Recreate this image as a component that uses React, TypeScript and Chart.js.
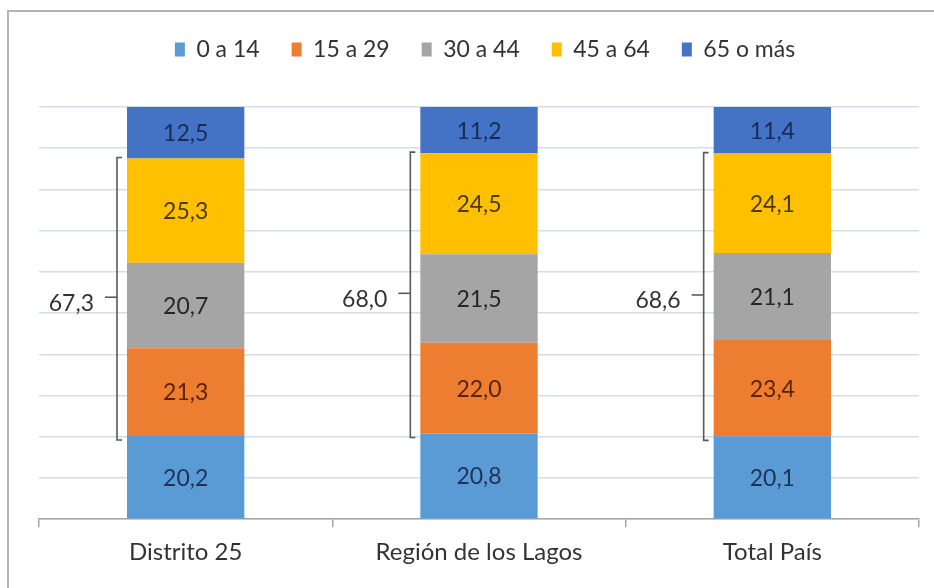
import React, { useEffect, useRef } from 'react';
import { Chart, registerables } from 'chart.js';

Chart.register(...registerables);

const categories = ['Distrito 25', 'Región de los Lagos', 'Total País'];
const seriesNames = ['0 a 14', '15 a 29', '30 a 44', '45 a 64', '65 o más'];
const age0to14 = [20.2, 20.8, 20.1];
const age15to29 = [21.3, 22.0, 23.4];
const age30to44 = [20.7, 21.5, 21.1];
const age45to64 = [25.3, 24.5, 24.1];
const age65plus = [12.5, 11.2, 11.4];
const workingAgeTotals = [67.3, 68.0, 68.6];
const yTicksMax = 100;
const yTickStep = 10;

const seriesColors = ['#5B9BD5', '#ED7D31', '#A5A5A5', '#FFC000', '#4472C4'];
const labelColors = ['#1c3355', '#5a2308', '#262626', '#4a3a05', '#172b57'];
const FONT = 'Lato, "Open Sans", sans-serif';

const fmt = (v: number) => v.toFixed(1).replace('.', ',');

export default function App() {
  const ref = useRef<HTMLCanvasElement | null>(null);

  useEffect(() => {
    const canvas = ref.current;
    if (!canvas) return;
    const seriesData = [age0to14, age15to29, age30to44, age45to64, age65plus];

    const legendSpacer = {
      id: 'legendSpacer',
      afterInit(chart: any) {
        const legend = chart.legend;
        if (!legend || legend._spaced) return;
        const orig = legend.fit.bind(legend);
        legend.fit = function () {
          orig();
          this.height += 37;
        };
        const origDraw = legend.draw.bind(legend);
        legend.draw = function () {
          const ctx = chart.ctx;
          ctx.save();
          ctx.translate(6, 1);
          origDraw();
          ctx.restore();
        };
        legend._spaced = true;
      },
    };

    const valueLabels = {
      id: 'valueLabels',
      afterDatasetsDraw(chart: any) {
        const ctx = chart.ctx;
        ctx.save();
        ctx.font = `23px ${FONT}`;
        ctx.textAlign = 'center';
        ctx.textBaseline = 'middle';
        chart.data.datasets.forEach((ds: any, di: number) => {
          const meta = chart.getDatasetMeta(di);
          meta.data.forEach((bar: any, i: number) => {
            const y = (bar.y + bar.base) / 2;
            ctx.fillStyle = labelColors[di];
            ctx.fillText(fmt(ds.data[i]), bar.x, y + 1);
          });
        });

        // brackets for 15-64
        const lower = chart.getDatasetMeta(1);
        const upper = chart.getDatasetMeta(3);
        ctx.strokeStyle = '#595959';
        ctx.lineWidth = 1.6;
        ctx.fillStyle = '#333333';
        ctx.textAlign = 'right';
        lower.data.forEach((bar: any, i: number) => {
          const top = upper.data[i].y - 1;
          const bottom = bar.base + 4;
          const x = bar.x - bar.width / 2 - 10;
          ctx.beginPath();
          ctx.moveTo(x + 5, top);
          ctx.lineTo(x, top);
          ctx.lineTo(x, bottom);
          ctx.lineTo(x + 5, bottom);
          ctx.stroke();
          const mid = (upper.data[i].y + bar.base) / 2;
          ctx.beginPath();
          ctx.moveTo(x - 12, mid);
          ctx.lineTo(x, mid);
          ctx.stroke();
          ctx.fillText(fmt(workingAgeTotals[i]), x - 23, mid + 6);
        });
        ctx.restore();
      },
    };

    const chart = new Chart(canvas, {
      type: 'bar',
      data: {
        labels: categories,
        datasets: seriesNames.map((name, i) => ({
          label: name,
          data: seriesData[i],
          backgroundColor: seriesColors[i],
          borderWidth: 0,
          barPercentage: 0.4,
          categoryPercentage: 1,
        })),
      },
      options: {
        responsive: false,
        animation: false,
        layout: { padding: { left: 39, right: 15, top: 5, bottom: 10 } },
        plugins: {
          legend: {
            position: 'top',
            labels: {
              boxWidth: 10,
              boxHeight: 14,
              padding: 32,
              color: '#333333',
              font: { family: FONT, size: 23 },
            },
          },
          tooltip: { enabled: false },
        },
        scales: {
          x: {
            stacked: true,
            grid: {
              display: true,
              drawOnChartArea: false,
              drawTicks: true,
              tickLength: 8,
              color: '#a6a6a6',
              lineWidth: 1.5,
            },
            border: { display: true, color: '#a6a6a6', width: 1.5 },
            ticks: {
              color: '#333333',
              padding: 11,
              font: { family: FONT, size: 24 },
            },
          },
          y: {
            stacked: true,
            min: 0,
            max: yTicksMax,
            ticks: { display: false, stepSize: yTickStep },
            grid: { color: '#d5dde8', lineWidth: 1.5, drawTicks: false },
            border: { display: false },
          },
        },
      },
      plugins: [legendSpacer, valueLabels],
    });
    return () => chart.destroy();
  }, []);

  return (
    <div style={{ position: 'fixed', left: 0, top: 0, width: 934, height: 588, background: '#fff' }}>
      <div
        style={{
          position: 'absolute',
          left: 7,
          top: 10,
          width: 927,
          height: 578,
          borderLeft: '2px solid #b4b4b4',
          borderTop: '2px solid #b4b4b4',
          boxSizing: 'border-box',
        }}
      />
      <canvas ref={ref} width={934} height={588} style={{ position: 'absolute', left: 0, top: 0 }} />
    </div>
  );
}
